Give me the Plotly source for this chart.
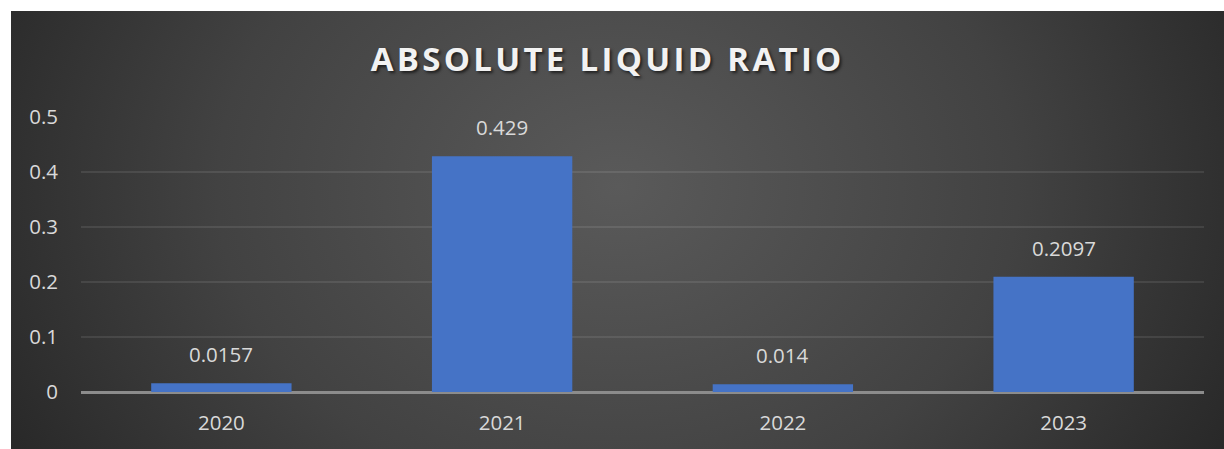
import base64
import plotly.graph_objects as go

categories = ["2020", "2021", "2022", "2023"]
values = [0.0157, 0.429, 0.014, 0.2097]
value_labels = ["0.0157", "0.429", "0.014", "0.2097"]
y_ticks = [0, 0.1, 0.2, 0.3, 0.4, 0.5]
y_tick_labels = ["0", "0.1", "0.2", "0.3", "0.4", "0.5"]
title_text = "ABSOLUTE LIQUID RATIO"

W, H = 1224, 449
L, R, T, B = 81, 20, 117, 57
pw, ph = W - L - R, H - T - B

svg = (
    '<svg xmlns="http://www.w3.org/2000/svg" width="1213" height="438" viewBox="0 0 1213 438" preserveAspectRatio="none">'
    '<defs><radialGradient id="g" cx="50%" cy="40%" r="60%" fx="50%" fy="40%" gradientTransform="translate(0.5,0.4) scale(1,2.2) translate(-0.5,-0.4)">'
    '<stop offset="0" stop-color="#5a5a5a"/><stop offset="0.55" stop-color="#424242"/><stop offset="1" stop-color="#252525"/>'
    '</radialGradient></defs><rect width="1213" height="438" fill="url(#g)"/></svg>'
)
src = "data:image/svg+xml;base64," + base64.b64encode(svg.encode()).decode()

spaced_title = "\u200a".join(title_text)

fig = go.Figure()
fig.add_trace(go.Bar(
    x=categories, y=values,
    marker=dict(color="#4573c6", line=dict(width=0)),
    width=0.5,
    hoverinfo="skip",
))

for i, (v, t) in enumerate(zip(values, value_labels)):
    fig.add_annotation(x=i, y=v, text=t, showarrow=False, yanchor="bottom",
                       yshift=13, font=dict(family="Open Sans", size=20.5, color="#d9d9d9"))

fig.add_layout_image(dict(
    source=src, xref="paper", yref="paper",
    x=(11 - L) / pw, y=1 + (T - 11) / ph,
    sizex=(W - 11) / pw, sizey=(H - 11) / ph,
    xanchor="left", yanchor="top", sizing="stretch", layer="below",
))

fig.update_layout(
    width=W, height=H,
    margin=dict(l=L, r=R, t=T, b=B, pad=0),
    paper_bgcolor="white",
    plot_bgcolor="rgba(0,0,0,0)",
    showlegend=False,
    title=dict(
        text="<b>" + spaced_title + "</b>",
        x=606 / W, xanchor="center", xref="container",
        y=1 - 59 / H, yanchor="middle", yref="container",
        font=dict(family="Open Sans", size=33, color="#f2f2f2",
                  shadow="2px 2px 3px rgba(0,0,0,0.6)"),
    ),
)
fig.update_xaxes(
    type="category", range=[-0.5, len(categories) - 0.5],
    showgrid=False, showline=False, zeroline=False,
    tickfont=dict(family="Open Sans", size=20.5, color="#d9d9d9"),
    ticks="", ticklabelstandoff=16,
)
fig.update_yaxes(
    range=[0, 0.5005], tickvals=y_ticks, ticktext=y_tick_labels,
    showgrid=True, gridcolor="rgba(255,255,255,0.09)", gridwidth=1.5,
    zeroline=True, zerolinecolor="#8c8c8c", zerolinewidth=2.5,
    showline=False, ticks="",
    tickfont=dict(family="Open Sans", size=20.5, color="#d9d9d9"),
    ticklabelstandoff=22,
)

fig.write_html("out.html")
